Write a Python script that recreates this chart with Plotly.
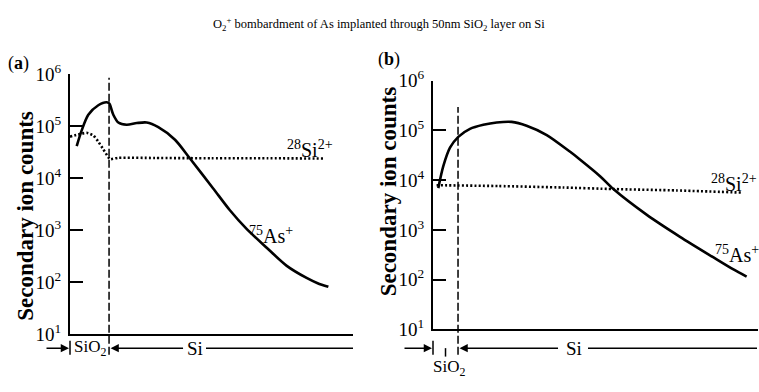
import plotly.graph_objects as go

# ---------------- data ----------------
# Panel (a): depth in arbitrary units (0-100 across the axis)
depth_a_as = [2.37, 4.13, 6.47, 10.0, 12.97, 13.9, 15.3, 17.07, 20.0, 23.6, 27.1,
              31.2, 37.1, 42.4, 50.6, 56.5, 62.4, 69.5, 76.6, 83.6, 87.5, 91.3]
counts_a_as = [4.12e4, 8.26e4, 1.65e5, 2.51e5, 2.87e5, 2.69e5, 1.65e5, 1.17e5, 1.06e5,
               1.14e5, 1.17e5, 9.5e4, 5.45e4, 2.37e4, 6.3e3, 2.4e3, 1.05e3, 457, 205,
               120, 95, 81]
depth_a_si = [0.0, 2.94, 5.89, 8.25, 10.0, 11.8, 13.55, 14.1, 17.1, 30, 50, 70, 89.5]
counts_a_si = [6.25e4, 6.9e4, 7.4e4, 6.6e4, 5.0e4, 3.55e4, 2.5e4, 2.3e4, 2.45e4,
               2.43e4, 2.4e4, 2.4e4, 2.37e4]
interface_a = 13.8

# Panel (b)
depth_b_as = [1.63, 3.17, 5.23, 7.78, 11.38, 15.48, 19.6, 24.2, 28.8, 35.0, 42.2, 45.2,
              51.4, 55.5, 65.8, 76.0, 86.2, 92.3, 96.5]
counts_b_as = [6.9e3, 1.9e4, 4.47e4, 7.4e4, 1.07e5, 1.29e5, 1.44e5, 1.48e5, 1.24e5,
               8.05e4, 3.7e4, 2.6e4, 1.2e4, 6.6e3, 2.0e3, 725, 282, 162, 115]
depth_b_si = [1.1, 20, 40, 55.5, 75, 95.4]
counts_b_si = [7.9e3, 7.6e3, 7.1e3, 6.6e3, 6.2e3, 5.6e3]
interface_b = 7.7

tick_vals = [10, 100, 1000, 1e4, 1e5, 1e6]
tick_text = ["10<sup>1</sup>", "10<sup>2</sup>", "10<sup>3</sup>",
             "10<sup>4</sup>", "10<sup>5</sup>", "10<sup>6</sup>"]

title_text = ("O<sub>2</sub><sup>+</sup> bombardment of As implanted through 50nm "
              "SiO<sub>2</sub> layer on Si")
ytitle = "Secondary ion counts"

# ---------------- layout geometry ----------------
W, H = 759, 392
SERIF = '"Liberation Serif", "Times New Roman", Times, serif'
dom_xa = [70 / W, 353 / W]
dom_ya = [1 - 342 / H, 1 - 65 / H]
dom_xb = [433 / W, 758 / W]
dom_yb = [1 - 337 / H, 1 - 72 / H]
XR = [0, 100]
YR = [1, 6]


def px(dom, u):
    return dom[0] + (u - XR[0]) / (XR[1] - XR[0]) * (dom[1] - dom[0])


def py(dom, lv):
    return dom[0] + (lv - YR[0]) / (YR[1] - YR[0]) * (dom[1] - dom[0])


def P(xpix):
    return xpix / W


def Q(ypix):
    return 1 - ypix / H


fig = go.Figure()

line_as = dict(color="black", width=2.6, shape="spline", smoothing=0.8)
line_si = dict(color="black", width=2.6, dash="2px,2.2px", shape="spline", smoothing=0.5)

fig.add_trace(go.Scatter(x=depth_a_as, y=counts_a_as, mode="lines", line=line_as,
                         xaxis="x", yaxis="y", showlegend=False))
fig.add_trace(go.Scatter(x=depth_a_si, y=counts_a_si, mode="lines", line=line_si,
                         xaxis="x", yaxis="y", showlegend=False))
fig.add_trace(go.Scatter(x=depth_b_as, y=counts_b_as, mode="lines", line=line_as,
                         xaxis="x2", yaxis="y2", showlegend=False))
fig.add_trace(go.Scatter(x=depth_b_si, y=counts_b_si, mode="lines", line=line_si,
                         xaxis="x2", yaxis="y2", showlegend=False))

yax = dict(type="log", range=YR, tickvals=tick_vals, ticktext=tick_text,
           ticks="inside", ticklen=13, tickwidth=1.5, tickcolor="black",
           showline=True, linewidth=2, linecolor="black", showgrid=False,
           zeroline=False, tickfont=dict(family=SERIF, size=19, color="black"),
           ticklabelstandoff=3)
xax = dict(range=XR, showline=True, linewidth=2, linecolor="black", showgrid=False,
           zeroline=False, showticklabels=False, ticks="")

fig.update_layout(
    width=W, height=H, margin=dict(l=0, r=0, t=0, b=0),
    paper_bgcolor="white", plot_bgcolor="white",
    xaxis=dict(xax, domain=dom_xa, anchor="y"),
    yaxis=dict(yax, domain=dom_ya, anchor="x"),
    xaxis2=dict(xax, domain=dom_xb, anchor="y2"),
    yaxis2=dict(yax, domain=dom_yb, anchor="x2"),
)

shapes = []
ann = []


def text(t, x, y, xref="paper", yref="paper", size=18, angle=0):
    return dict(text=t, x=x, y=y, xref=xref, yref=yref, showarrow=False,
                xanchor="center", yanchor="middle", textangle=angle,
                font=dict(family=SERIF, size=size, color="black"))


# interface dashed lines
shapes.append(dict(type="line", xref="paper", yref="paper",
                   x0=px(dom_xa, interface_a), x1=px(dom_xa, interface_a),
                   y0=Q(364), y1=py(dom_ya, 5.93),
                   line=dict(color="black", width=1.5, dash="8px,3px")))
shapes.append(dict(type="line", xref="paper", yref="paper",
                   x0=px(dom_xb, interface_b), x1=px(dom_xb, interface_b),
                   y0=Q(364), y1=py(dom_yb, 5.47),
                   line=dict(color="black", width=1.5, dash="8px,3px")))

# bottom layer bars
for xx in [px(dom_xa, 0), px(dom_xb, 0)]:
    shapes.append(dict(type="line", xref="paper", yref="paper", x0=xx, x1=xx,
                       y0=Q(364), y1=Q(349), line=dict(color="black", width=1.5)))
shapes.append(dict(type="line", xref="paper", yref="paper",
                   x0=px(dom_xb, interface_b / 2), x1=px(dom_xb, interface_b / 2),
                   y0=Q(366), y1=Q(357), line=dict(color="black", width=1.5)))

yrow = Q(357)
shapes.append(dict(type="line", xref="paper", yref="paper", x0=P(206), x1=dom_xa[1],
                   y0=yrow, y1=yrow, line=dict(color="black", width=1.5)))
shapes.append(dict(type="line", xref="paper", yref="paper", x0=P(588), x1=P(757),
                   y0=yrow, y1=yrow, line=dict(color="black", width=1.5)))

arrow = dict(text="", showarrow=True, arrowhead=2, arrowsize=1.1, arrowwidth=1.5,
             arrowcolor="black", xref="paper", yref="paper", ay=0, standoff=0)
ann.append(dict(arrow, x=px(dom_xa, 0) - 1 / W, y=yrow, ax=-24))
ann.append(dict(arrow, x=px(dom_xa, interface_a) + 1.5 / W, y=yrow, ax=74))
ann.append(dict(arrow, x=px(dom_xb, 0) - 1 / W, y=yrow, ax=-29))
ann.append(dict(arrow, x=px(dom_xb, interface_b) + 1.5 / W, y=yrow, ax=100))

ann.append(text("SiO<sub>2</sub>", P(89.5), Q(357), size=17))
ann.append(text("Si", P(195), Q(357), size=19))
ann.append(text("SiO<sub>2</sub>", P(449), Q(378), size=17))
ann.append(text("Si", P(574), Q(357), size=19))

# series labels
ann.append(text("<sup>28</sup>Si<sup>2+</sup>", 84.8, 4.556, "x", "y", size=20))
ann.append(text("<sup>75</sup>As<sup>+</sup>", 71, 2.90, "x", "y", size=20))
ann.append(text("<sup>28</sup>Si<sup>2+</sup>", 92.6, 3.94, "x2", "y2", size=20))
ann.append(text("<sup>75</sup>As<sup>+</sup>", 93.5, 2.51, "x2", "y2", size=20))

# panel letters
ann.append(text("(<b>a</b>)", P(18), Q(54), size=18))
ann.append(text("(<b>b</b>)", P(389), Q(49), size=18))

# y titles
ann.append(text("<b>" + ytitle + "</b>", P(26), Q(216), size=23, angle=-90))
ann.append(text("<b>" + ytitle + "</b>", P(388), Q(190), size=23, angle=-90))

# title
ann.append(text(title_text, P(379), Q(12), size=12.5))

fig.update_layout(shapes=shapes, annotations=ann)
fig.write_html("out.html")
